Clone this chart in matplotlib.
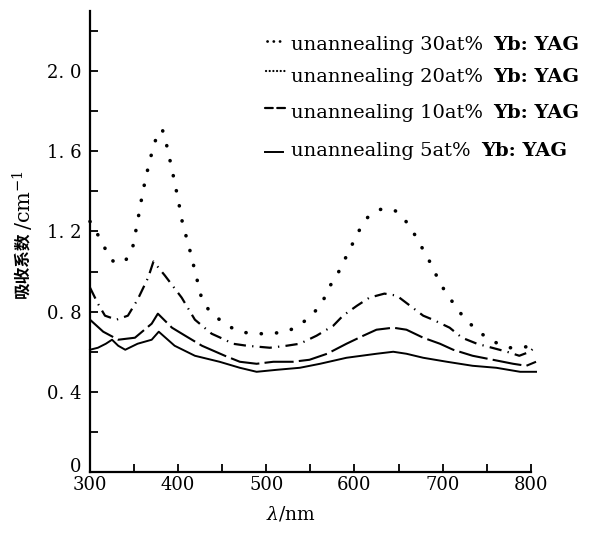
import numpy as np
import matplotlib
matplotlib.use("Agg")
import matplotlib.pyplot as plt
import matplotlib.transforms as mtransforms

# absorption spectra (wavelength nm, coefficient cm^-1)
wl_30 = [300, 308, 315, 320, 329, 341, 348, 354, 360, 366, 370, 376, 382, 387,
         393, 400, 405, 412, 422, 427, 436, 447, 456, 470, 485, 504, 523, 537,
         551, 563, 571, 580, 589, 598, 606, 615, 629, 644, 654, 663, 672, 680,
         688, 696, 706, 716, 724, 736, 750, 763, 775, 789, 801]
abs_30 = [1.25, 1.19, 1.14, 1.08, 1.04, 1.06, 1.11, 1.25, 1.40, 1.52, 1.59, 1.68,
          1.71, 1.63, 1.51, 1.36, 1.24, 1.13, 0.95, 0.86, 0.80, 0.76, 0.73, 0.70,
          0.69, 0.69, 0.70, 0.73, 0.78, 0.84, 0.92, 0.98, 1.06, 1.14, 1.21, 1.27,
          1.31, 1.31, 1.28, 1.22, 1.16, 1.09, 1.03, 0.95, 0.88, 0.82, 0.77, 0.72,
          0.67, 0.64, 0.62, 0.62, 0.63]

wl_20 = [300, 309, 317, 330, 343, 354, 366, 372, 385, 404, 419, 438, 453, 462,
         478, 504, 523, 538, 557, 576, 587, 603, 617, 634, 648, 657, 678, 689,
         708, 722, 739, 756, 773, 787, 799, 806]
abs_20 = [0.92, 0.84, 0.78, 0.76, 0.78, 0.86, 0.97, 1.05, 0.98, 0.87, 0.76, 0.69,
          0.66, 0.64, 0.63, 0.62, 0.63, 0.64, 0.68, 0.73, 0.78, 0.83, 0.87, 0.89,
          0.88, 0.85, 0.78, 0.76, 0.72, 0.67, 0.64, 0.62, 0.60, 0.58, 0.60, 0.63]

wl_10 = [300, 315, 332, 351, 370, 377, 393, 408, 427, 453, 470, 489, 508, 530,
         549, 569, 591, 610, 625, 644, 659, 678, 697, 712, 734, 757, 780, 795, 806]
abs_10 = [0.76, 0.70, 0.66, 0.67, 0.74, 0.79, 0.72, 0.68, 0.63, 0.58, 0.55, 0.54,
          0.55, 0.55, 0.56, 0.59, 0.64, 0.68, 0.71, 0.72, 0.71, 0.67, 0.64, 0.61,
          0.58, 0.56, 0.54, 0.53, 0.55]

wl_5 = [300, 309, 318, 325, 332, 340, 354, 370, 378, 396, 419, 447, 470, 489,
        512, 538, 561, 591, 625, 644, 659, 678, 705, 734, 761, 788, 806]
abs_5 = [0.61, 0.62, 0.64, 0.66, 0.63, 0.61, 0.64, 0.66, 0.70, 0.63, 0.58, 0.55,
         0.52, 0.50, 0.51, 0.52, 0.54, 0.57, 0.59, 0.60, 0.59, 0.57, 0.55, 0.53,
         0.52, 0.50, 0.50]

series_labels = ["30at%", "20at%", "10at%", "5at%"]
x_ticks = [300, 350, 400, 450, 500, 550, 600, 650, 700, 750, 800]
x_labels = ["300", "", "400", "", "500", "", "600", "", "700", "", "800"]
y_ticks = [0, 0.2, 0.4, 0.6, 0.8, 1.0, 1.2, 1.4, 1.6, 1.8, 2.0, 2.2]
y_labels = ["0", "", "0. 4", "", "0. 8", "", "1. 2", "", "1. 6", "", "2. 0", ""]

serif = "DejaVu Serif"
plt.rcParams["mathtext.fontset"] = "dejavuserif"

fig = plt.figure(figsize=(5.94, 5.33), dpi=100)
ax = fig.add_axes([0.1515, 0.1144, 0.742, 0.865])
W, H = 594, 533

dotted = (0, (0.05, 4.2))
dashdot = (0, (5.5, 2.8, 0.6, 2.8))
dashed = (0, (14, 2.5))

ax.plot(wl_30, abs_30, color="black", lw=2.6, linestyle=dotted,
        dash_capstyle="round", clip_on=False)
ax.plot(wl_20, abs_20, color="black", lw=1.6, linestyle=dashdot, clip_on=False)
ax.plot(wl_10, abs_10, color="black", lw=1.5, linestyle=dashed, clip_on=False)
ax.plot(wl_5, abs_5, color="black", lw=1.4, clip_on=False)

ax.set_xlim(300, 800)
ax.set_ylim(0, 2.3)

for s in ["top", "right"]:
    ax.spines[s].set_visible(False)
for s in ["left", "bottom"]:
    ax.spines[s].set_linewidth(1.6)

ax.set_xticks(x_ticks)
ax.set_xticklabels(x_labels, fontfamily=serif, fontsize=13)
ax.set_yticks(y_ticks)
ax.set_yticklabels(y_labels, fontfamily=serif, fontsize=13)
ax.tick_params(axis="both", direction="in", length=6, width=1.3)
ax.tick_params(axis="x", pad=3)
ax.tick_params(axis="y", pad=6)

# the "0" label sits a little above the x axis, clear of "300"
zero = ax.get_yticklabels()[0]
zero.set_transform(zero.get_transform() +
                   mtransforms.ScaledTranslation(0, 7 / 100, fig.dpi_scale_trans))

fig.text(291 / W, 0.018, r"$\lambda$/nm", fontfamily=serif, fontsize=13.5,
         ha="center", va="bottom")

fig.canvas.draw()
renderer = fig.canvas.get_renderer()

# y label: chinese part then the unit in serif
t1 = fig.text(22 / W, 1 - 298 / H, "吸收系数", rotation=90, ha="center",
              va="bottom", fontsize=12, fontweight="bold",
              family=["Noto Sans CJK SC", "DejaVu Sans"])
bb = t1.get_window_extent(renderer)
fig.text(23 / W, bb.y1 / H + 0.002, "/cm$^{-1}$", rotation=90, ha="center",
         va="bottom", fontsize=15, fontfamily=serif)

# hand-made legend
rows_y = [45, 77, 113, 151]          # pixel rows from top
handles = [
    dict(ls=(0, (0.05, 2.2)), lw=2.0, y_off=-4, x0=267, x1=281),
    dict(ls=(0, (0.05, 1.6)), lw=1.6, y_off=-6, x0=266, x1=288),
    dict(ls=(0, (3.5, 2.0)), lw=1.6, y_off=-5, x0=265, x1=286),
    dict(ls="-", lw=1.4, y_off=1, x0=265, x1=283),
]
for lab, ry, h in zip(series_labels, rows_y, handles):
    yy = 1 - (ry + h["y_off"]) / H
    fig.add_artist(plt.Line2D([h["x0"] / W, h["x1"] / W], [yy, yy],
                              color="black", lw=h["lw"], linestyle=h["ls"],
                              dash_capstyle="round", transform=fig.transFigure))
    t = fig.text(291 / W, 1 - ry / H, "unannealing " + lab, fontfamily=serif,
                 fontsize=14, va="center", ha="left")
    bb = t.get_window_extent(renderer)
    fig.text(bb.x1 / W + 0.017, 1 - ry / H, "Yb: YAG", fontfamily=serif,
             fontsize=14, fontweight="bold", va="center", ha="left")

fig.savefig("out.png", dpi=100)
